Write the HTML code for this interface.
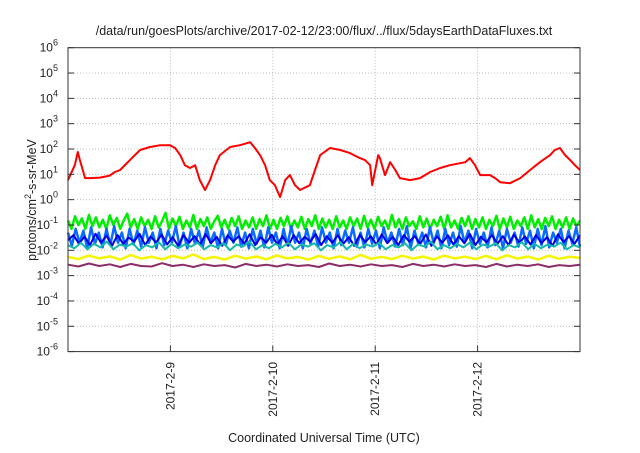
<!DOCTYPE html>
<html><head><meta charset="utf-8"><style>
body{margin:0;background:#fff;}
svg text{font-family:"Liberation Sans",sans-serif;fill:#222;}
</style></head><body>
<svg id="chart" width="640" height="448" viewBox="0 0 640 448" xmlns="http://www.w3.org/2000/svg">
<text x="324" y="35" font-size="12.5" text-anchor="middle">/data/run/goesPlots/archive/2017-02-12/23:00/flux/../flux/5daysEarthDataFluxes.txt</text>
<text x="324" y="442" font-size="12.5" text-anchor="middle">Coordinated Universal Time (UTC)</text>
<text transform="translate(36,200) rotate(-90)" font-size="12.5" text-anchor="middle">protons/cm<tspan font-size="9" dy="-5">2</tspan><tspan dy="5">-s-sr-MeV</tspan></text>
<g id="grid"></g>
<g id="series"></g>
<g id="axes"></g>
</svg>
<script>
const dayLabels=["2017-2-9","2017-2-10","2017-2-11","2017-2-12"];
const decadeExps=[-6,-5,-4,-3,-2,-1,0,1,2,3,4,5,6];
const redHours=[0,1.6,2.3,2.8,4,5.2,7.5,9.8,11,12.2,14.5,16.9,19.2,21.6,23.9,25.1,26.3,27.4,28.6,29.8,30.9,32.1,33.3,34.5,35.6,38,40.3,42.7,43.8,45,46.2,47.3,48.5,49.7,50.9,52,53.2,54.4,56.7,57.9,59.1,61.4,63.8,66.1,68.4,69.6,70.8,71.3,72.7,73.1,74.3,75.5,76.7,77.8,80.2,82.5,84.9,87.2,89.5,91.9,93.1,94.2,95.4,96.6,98.9,100.1,101.3,103.6,106,108.3,110.6,113,114.1,115.3,116.5,117.7,118.8,120];
const redLog=[0.77,1.36,1.88,1.56,0.85,0.85,0.87,0.95,1.09,1.17,1.56,1.96,2.08,2.15,2.15,2.04,1.76,1.36,1.25,1.36,0.77,0.38,0.77,1.36,1.76,2.08,2.15,2.27,2.04,1.76,1.36,0.77,0.57,0.10,0.77,0.97,0.57,0.38,0.57,1.17,1.76,2.04,1.96,1.84,1.64,1.56,1.36,0.57,1.76,1.64,0.97,1.48,1.17,0.85,0.77,0.85,1.09,1.25,1.36,1.44,1.48,1.64,1.36,0.97,0.97,0.85,0.69,0.65,0.85,1.17,1.48,1.76,1.96,2.04,1.76,1.56,1.36,1.17,0.97];
const green=[0.15,0.07,0.22,0.1,0.18,0.07,0.25,0.09,0.2,0.08,0.16,0.07,0.24,0.1,0.19,0.07,0.15,0.28,0.08,0.17,0.07,0.2,0.09,0.16,0.07,0.22,0.08,0.14,0.3,0.07,0.18,0.09,0.21,0.07,0.15,0.08,0.25,0.07,0.17,0.09,0.2,0.07,0.14,0.23,0.08,0.16,0.07,0.19,0.09,0.22,0.07,0.15,0.08,0.2,0.07,0.17,0.09,0.24,0.07,0.16,0.07,0.19,0.09,0.22,0.07,0.15,0.08,0.21,0.07,0.17,0.09,0.24,0.07,0.18,0.08,0.16,0.07,0.22,0.08,0.15,0.07,0.2,0.09,0.18,0.07,0.23,0.08,0.16,0.07,0.21,0.09,0.15,0.07,0.25,0.08,0.17,0.07,0.2,0.09,0.14,0.07,0.22,0.08,0.18,0.07,0.16,0.09,0.21,0.07,0.24,0.08,0.15,0.07,0.19,0.09,0.22,0.07,0.17,0.08,0.2,0.07,0.16,0.09,0.23,0.07,0.18,0.08,0.21,0.07,0.15,0.09,0.2,0.07,0.24,0.08,0.17,0.07,0.19,0.09,0.22,0.07,0.16,0.08,0.2,0.07,0.18,0.09,0.15];
const lightBlue=[0.05,0.015,0.07,0.02,0.06,0.012,0.08,0.018,0.05,0.013,0.07,0.016,0.09,0.02,0.05,0.012,0.07,0.017,0.06,0.014,0.08,0.02,0.05,0.012,0.07,0.016,0.06,0.02,0.09,0.014,0.05,0.012,0.07,0.018,0.06,0.013,0.08,0.02,0.05,0.012,0.07,0.016,0.06,0.02,0.08,0.014,0.05,0.012,0.07,0.018,0.06,0.013,0.08,0.02,0.05,0.012,0.07,0.016,0.09,0.02,0.05,0.012,0.07,0.018,0.06,0.014,0.08,0.02,0.05,0.012,0.07,0.016,0.06,0.02,0.08,0.014,0.05,0.013,0.07,0.018,0.06,0.012,0.08,0.02,0.05,0.014,0.07,0.016,0.09,0.012,0.06,0.018,0.05,0.013,0.08,0.02,0.06,0.012,0.07,0.016,0.05,0.014,0.09,0.02,0.06,0.012,0.07,0.018,0.05,0.013,0.08,0.016,0.06,0.012,0.07,0.02,0.05,0.014,0.08,0.018,0.06,0.012,0.07,0.016,0.09,0.013,0.05,0.02,0.07,0.012,0.06,0.018,0.08,0.014];
const blue=[0.025,0.04,0.018,0.035,0.016,0.045,0.02,0.038,0.015,0.04,0.018,0.032,0.022,0.045,0.016,0.035,0.02,0.042,0.017,0.033,0.015,0.04,0.02,0.036,0.017,0.044,0.019,0.034,0.015,0.039,0.022,0.036,0.018,0.043,0.016,0.033,0.02,0.041,0.017,0.036,0.015,0.04,0.019,0.034,0.022,0.044,0.016,0.036,0.02,0.039,0.018,0.033,0.015,0.041,0.021,0.036,0.017,0.043,0.019,0.034,0.016,0.04,0.022,0.036,0.018,0.042,0.015,0.035,0.02,0.039,0.017,0.036,0.019,0.044,0.016,0.034,0.021,0.04,0.018,0.036,0.016,0.042,0.02,0.035,0.017,0.04,0.019,0.033,0.015,0.043,0.021,0.036,0.018,0.039];
const teal=[0.016,0.012,0.02,0.011,0.018,0.013,0.022,0.011,0.017,0.014,0.019,0.01,0.016,0.013,0.021,0.011,0.018,0.012,0.017,0.014,0.02,0.011,0.016,0.013,0.019,0.01,0.017,0.014,0.022,0.011,0.016,0.012,0.018,0.013,0.02,0.011,0.017,0.014,0.019,0.01,0.016,0.013,0.021,0.011,0.018,0.012,0.017,0.014,0.02,0.011,0.016,0.013,0.019,0.01,0.017,0.014,0.022,0.011,0.016,0.012,0.018,0.013,0.02,0.011,0.017,0.014,0.019,0.01,0.016,0.013,0.021,0.011,0.018,0.012,0.017,0.014,0.02,0.011,0.016,0.013];
const yellow=[0.0055,0.0045,0.0062,0.0048,0.0058,0.0043,0.0065,0.0047,0.0056,0.0044,0.006,0.0048,0.0068,0.0045,0.0055,0.0043,0.0061,0.0047,0.0057,0.0044,0.0063,0.0048,0.0055,0.0043,0.006,0.0046,0.0058,0.0044,0.0066,0.0046,0.0055,0.0045,0.0061,0.0047,0.0057,0.0043,0.0062,0.0048,0.0056,0.0045,0.006,0.0044,0.0064,0.0047,0.0057,0.0043,0.0061,0.0046,0.0056,0.005];
const purple=[0.0027,0.0023,0.003,0.0024,0.0028,0.0022,0.0029,0.0024,0.0023,0.0031,0.0024,0.0027,0.0022,0.0028,0.0024,0.0026,0.0021,0.0029,0.0024,0.0027,0.0023,0.0028,0.0024,0.0026,0.0022,0.003,0.0024,0.0027,0.0023,0.0028,0.0024,0.0026,0.0022,0.0029,0.0024,0.0027,0.0023,0.0028,0.0024,0.0026,0.0022,0.0029,0.0023,0.0027,0.0024,0.0028,0.0022,0.0026,0.0024,0.0027];

const L=68,R=580,T=47.7,B=351.6,NS="http://www.w3.org/2000/svg";
const xH=h=>L+(R-L)*h/120;
const yV=v=>T+(6-Math.log10(v))*(B-T)/12;
const yL=l=>T+(6-l)*(B-T)/12;
function mk(t,a,p){const e=document.createElementNS(NS,t);for(const k in a)e.setAttribute(k,a[k]);p.appendChild(e);return e;}
const grid=document.getElementById('grid'),axes=document.getElementById('axes'),ser=document.getElementById('series');
decadeExps.forEach(e=>{const y=yL(e);
 if(e>-6&&e<6){const g=mk('line',{x1:L,x2:R,y1:y,y2:y,stroke:'#bbb','stroke-dasharray':'1,2','stroke-width':1},grid);}
 const t=mk('line',{x1:L,x2:L+6,y1:y,y2:y,stroke:'#333'},axes);
 const t2=mk('line',{x1:R-6,x2:R,y1:y,y2:y,stroke:'#333'},axes);
 const tx=mk('text',{x:L-10,y:y+4,'font-size':12,'text-anchor':'end'},axes);
 tx.textContent='10';const s=mk('tspan',{'font-size':9,dy:-6},tx);s.textContent=String(e);});
dayLabels.forEach((d,i)=>{const x=xH(24*(i+1));
 const g=mk('line',{x1:x,x2:x,y1:T,y2:B,stroke:'#bbb','stroke-dasharray':'1,2'},grid);
 const t=mk('line',{x1:x,x2:x,y1:B-6,y2:B,stroke:'#333'},axes);
 const tx=mk('text',{transform:`translate(${x+4},362) rotate(-90)`,'font-size':12,'text-anchor':'end'},axes);tx.textContent=d;});
const fr=mk('rect',{x:L,y:T,width:R-L,height:B-T,fill:'none',stroke:'#333','stroke-width':1},axes);
function line(vals,color,name,w){const n=vals.length;const pts=vals.map((v,i)=>xH(120*i/(n-1)).toFixed(1)+','+yV(v).toFixed(1)).join(' ');
 const p=mk('polyline',{points:pts,fill:'none',stroke:color,'stroke-width':w,'stroke-linejoin':'round'},ser);}
line(purple,'#8b2d6b','series-purple',2);
line(yellow,'#f5f500','series-yellow',2.5);
line(green,'#00ee00','series-green',2.5);
line(lightBlue,'#0a6cff','series-lightblue',2.5);
line(blue,'#0000e0','series-blue',2);
line(teal,'#16b8a8','series-teal',2);
const rp=mk('polyline',{points:redHours.map((h,i)=>xH(h).toFixed(1)+','+yL(redLog[i]).toFixed(1)).join(' '),fill:'none',stroke:'#f00','stroke-width':2,'stroke-linejoin':'round'},ser);


</script>
</body></html>
